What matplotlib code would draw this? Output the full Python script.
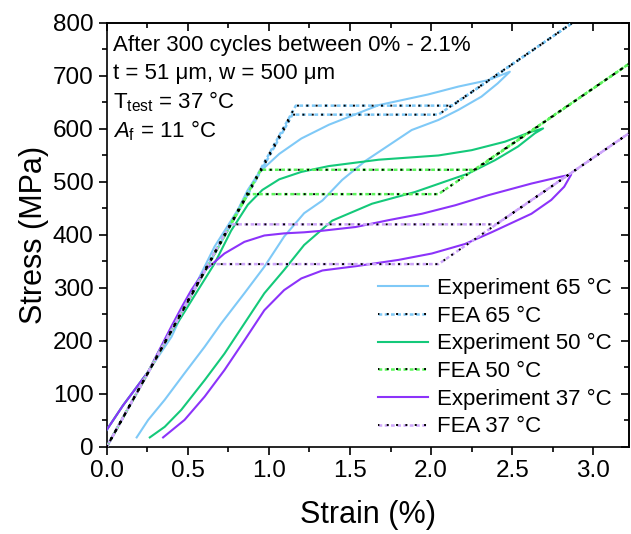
import matplotlib
matplotlib.use("Agg")
import matplotlib.pyplot as plt
from matplotlib.ticker import MultipleLocator

plt.rcParams['font.family'] = ['Liberation Sans', 'DejaVu Sans']
plt.rcParams['mathtext.fontset'] = 'custom'
plt.rcParams['mathtext.rm'] = 'Liberation Sans'
plt.rcParams['mathtext.it'] = 'Liberation Sans:italic'

# ---------------- data ----------------
# Experiment 65 C (loading then unloading)
exp65_strain = [0.0, 0.10, 0.256, 0.40, 0.542, 0.665, 0.808, 0.87, 0.94, 1.064, 1.20, 1.37, 1.677, 1.98, 2.168,
                2.29, 2.35, 2.485, 2.41, 2.31, 2.168, 2.045, 1.88, 1.596, 1.452, 1.33, 1.217, 1.094,
                0.972, 0.849, 0.706, 0.604, 0.48, 0.358, 0.256, 0.185]
exp65_stress = [32, 78, 142, 208, 302, 378, 447, 485, 518, 553, 582, 608, 645, 665, 680,
                688, 692, 708, 686, 661, 636, 617, 598, 540, 504, 465, 441, 397,
                340, 290, 233, 189, 139, 89, 51, 18]

# Experiment 50 C
exp50_strain = [0.0, 0.10, 0.256, 0.338, 0.46, 0.563, 0.665, 0.767, 0.87, 0.96, 1.064, 1.20, 1.37, 1.677,
                2.045, 2.25, 2.455, 2.62, 2.69, 2.64, 2.536, 2.393, 2.23, 2.107, 1.90, 1.636,
                1.39, 1.217, 1.094, 0.972, 0.849, 0.726, 0.604, 0.46, 0.358, 0.266]
exp50_stress = [32, 78, 142, 189, 245, 296, 346, 408, 457, 485, 505, 519, 530, 542,
                550, 560, 576, 595, 601, 592, 567, 541, 516, 503, 481, 459,
                427, 381, 334, 290, 233, 176, 126, 70, 38, 18]

# Experiment 37 C
exp37_strain = [0.0, 0.10, 0.256, 0.40, 0.47, 0.522, 0.604, 0.726, 0.849, 0.972, 1.094, 1.217, 1.33,
                1.534, 1.739, 1.943, 2.148, 2.352, 2.618, 2.80, 2.863, 2.82, 2.74, 2.618, 2.372,
                2.209, 2.004, 1.80, 1.534, 1.33, 1.20, 1.094, 0.972, 0.849, 0.726, 0.604,
                0.48, 0.348]
exp37_stress = [32, 78, 142, 228, 268, 296, 333, 365, 387, 399, 403, 405, 408,
                415, 428, 440, 456, 475, 497, 510, 514, 491, 466, 440, 405,
                383, 365, 353, 341, 333, 318, 296, 258, 201, 145, 95,
                51, 18]

# FEA vertices (loading: origin -> upper plateau -> max; unloading: max -> lower plateau -> origin)
fea65_strain = [0.0, 1.166, 2.13, 2.87, 2.045, 1.145, 0.0]
fea65_stress = [0, 644, 644, 800, 627, 627, 0]
fea50_strain = [0.0, 0.951, 2.27, 3.22, 2.045, 0.87, 0.0]
fea50_stress = [0, 523, 523, 723, 477, 477, 0]
fea37_strain = [0.0, 0.762, 2.40, 3.22, 2.045, 0.63, 0.0]
fea37_stress = [0, 420, 420, 592, 345, 345, 0]

labels = ["Experiment 65 °C", "FEA 65 °C", "Experiment 50 °C",
          "FEA 50 °C", "Experiment 37 °C", "FEA 37 °C"]

c65, c50, c37 = "#7FC9F7", "#14C97A", "#8C33FA"
f65, f50, f37 = "#7FC9F7", "#5CF55C", "#CDA6FA"

x_ticks = [0.0, 0.5, 1.0, 1.5, 2.0, 2.5, 3.0]
y_ticks = [0, 100, 200, 300, 400, 500, 600, 700, 800]

annot = ["After 300 cycles between 0% - 2.1%",
         "t = 51 μm, w = 500 μm",
         r"T$_{\mathrm{test}}$ = 37 °C",
         r"$A_{\mathrm{f}}$ = 11 °C"]

# ---------------- figure ----------------
fig = plt.figure(figsize=(6.31, 5.34), dpi=100)
ax = fig.add_axes([0.169, 0.163, 0.828, 0.794])

handles = []
for es, ey, fs, fy, ce, cf in [(exp65_strain, exp65_stress, fea65_strain, fea65_stress, c65, f65),
                               (exp50_strain, exp50_stress, fea50_strain, fea50_stress, c50, f50),
                               (exp37_strain, exp37_stress, fea37_strain, fea37_stress, c37, f37)]:
    he, = ax.plot(es, ey, color=ce, lw=1.5, zorder=3)
    h1, = ax.plot(fs, fy, color=cf, lw=1.8, ls=(0, (1.5, 1.0)), zorder=4)
    h2, = ax.plot(fs, fy, color="black", lw=1.4, ls=(0.3, (1, 3.8)), zorder=5)
    handles += [he, (h1, h2)]

ax.set_xlim(0, 3.22)
ax.set_ylim(0, 800)
ax.set_xticks(x_ticks)
ax.set_yticks(y_ticks)
ax.xaxis.set_minor_locator(MultipleLocator(0.25))
ax.yaxis.set_minor_locator(MultipleLocator(50))
ax.tick_params(which='both', direction='out', labelsize=17.5, width=1.2,
               top=False, right=False)
ax.tick_params(which='major', length=6)
ax.tick_params(which='minor', length=3.5)
for spine in ax.spines.values():
    spine.set_linewidth(1.2)

# inward ticks on top and right (no labels)
sx = ax.secondary_xaxis('top')
sx.set_xticks(x_ticks)
sx.xaxis.set_minor_locator(MultipleLocator(0.25))
sx.tick_params(which='both', direction='in', labeltop=False, width=1.2)
sx.tick_params(which='major', length=6)
sx.tick_params(which='minor', length=3.5)
sy = ax.secondary_yaxis('right')
sy.set_yticks(y_ticks)
sy.yaxis.set_minor_locator(MultipleLocator(50))
sy.tick_params(which='both', direction='in', labelright=False, width=1.2)
sy.tick_params(which='major', length=6)
sy.tick_params(which='minor', length=3.5)
for s in (sx, sy):
    for spine in s.spines.values():
        spine.set_linewidth(1.2)

ax.set_xticklabels([f"{v:.1f}" for v in x_ticks])
ax.set_xlabel("Strain (%)", fontsize=22, labelpad=13)
ax.set_ylabel("Stress (MPa)", fontsize=22, labelpad=3)

ys = [0.948, 0.880, 0.814, 0.745]
for txt, yy in zip(annot, ys):
    ax.text(0.012, yy, txt, transform=ax.transAxes, fontsize=16, va='center', ha='left')

leg = ax.legend(handles, labels, loc='lower right', bbox_to_anchor=(0.975, 0.012),
                frameon=False, fontsize=16, handlelength=2.25, handletextpad=0.4,
                labelspacing=0.3, borderaxespad=0.0, borderpad=0.2)

fig.savefig("out.png", dpi=100)
